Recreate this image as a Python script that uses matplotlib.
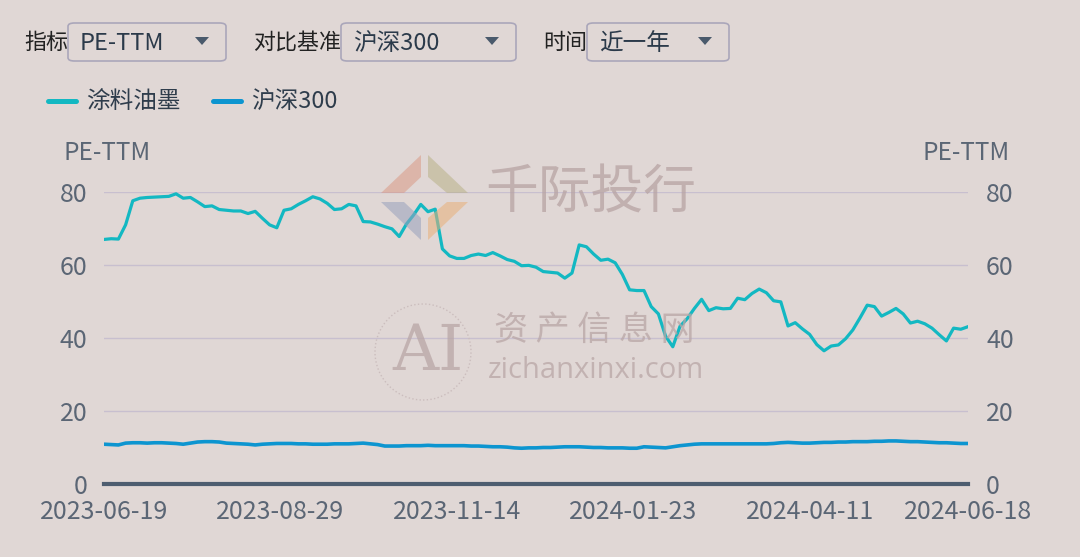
import numpy as np
import matplotlib.pyplot as plt
from matplotlib.patches import FancyBboxPatch, Polygon, Ellipse
from matplotlib.lines import Line2D

plt.rcParams['font.family'] = ['Noto Sans CJK SC', 'DejaVu Sans']

# PE-TTM, sampled every 2 trading days (2023-06-19 .. 2024-06-18)
industry_pe = [
    67.0, 67.2, 67.1, 71.0, 77.6, 78.3, 78.5, 78.6, 78.7, 78.8,
    79.5, 78.3, 78.5, 77.3, 76.0, 76.2, 75.2, 75.0, 74.8, 74.8,
    74.1, 74.7, 72.8, 71.0, 70.2, 75.0, 75.4, 76.6, 77.6, 78.7,
    78.1, 76.9, 75.2, 75.4, 76.6, 76.2, 71.9, 71.8, 71.2, 70.5,
    69.9, 67.8, 71.2, 73.7, 76.6, 74.6, 75.3, 64.4, 62.5, 61.8,
    61.8, 62.6, 63.0, 62.6, 63.4, 62.5, 61.5, 61.0, 59.8, 59.9,
    59.4, 58.2, 58.0, 57.8, 56.4, 57.8, 65.5, 65.0, 63.0, 61.3,
    61.6, 60.6, 57.4, 53.2, 53.0, 53.0, 48.6, 46.6, 40.5, 37.6,
    43.2, 45.3, 48.1, 50.6, 47.5, 48.3, 48.0, 48.1, 50.9, 50.5,
    52.2, 53.4, 52.4, 50.2, 49.9, 43.3, 44.2, 42.5, 41.0, 38.2,
    36.5, 37.8, 38.1, 39.8, 42.2, 45.5, 49.0, 48.6, 46.0, 47.0,
    48.1, 46.6, 44.1, 44.6, 43.9, 42.7, 40.9, 39.2, 42.7, 42.4,
    43.1,
]
hs300_pe = [
    10.9, 10.8, 10.7, 11.2, 11.3, 11.3, 11.2, 11.3, 11.3, 11.2,
    11.1, 10.9, 11.2, 11.5, 11.6, 11.6, 11.5, 11.2, 11.1, 11.0,
    10.9, 10.7, 10.9, 11.0, 11.1, 11.1, 11.1, 11.0, 11.0, 10.9,
    10.9, 10.9, 11.0, 11.0, 11.0, 11.1, 11.2, 11.0, 10.8, 10.4,
    10.4, 10.4, 10.5, 10.5, 10.5, 10.6, 10.5, 10.5, 10.5, 10.5,
    10.5, 10.4, 10.4, 10.3, 10.2, 10.2, 10.1, 9.9, 9.8, 9.9,
    9.9, 10.0, 10.0, 10.1, 10.2, 10.2, 10.2, 10.1, 10.0, 10.0,
    9.9, 9.9, 9.9, 9.8, 9.8, 10.2, 10.1, 10.0, 9.9, 10.2,
    10.5, 10.7, 10.9, 11.0, 11.0, 11.0, 11.0, 11.0, 11.0, 11.0,
    11.0, 11.0, 11.0, 11.1, 11.3, 11.4, 11.3, 11.2, 11.2, 11.3,
    11.4, 11.4, 11.5, 11.5, 11.6, 11.6, 11.6, 11.7, 11.7, 11.8,
    11.8, 11.7, 11.6, 11.6, 11.5, 11.4, 11.3, 11.3, 11.2, 11.1,
    11.1,
]
n_days = 241
tick_days = [0, 49, 98, 147, 196, 240]
tick_labels = ["2023-06-19", "2023-08-29", "2023-11-14", "2024-01-23", "2024-04-11", "2024-06-18"]
y_ticks = [0, 20, 40, 60, 80]

bg = "#e0d7d5"
teal = "#13b8c2"
blue = "#0d95d0"
txt = "#5b6675"
W, H = 1080, 557


def fx(px):
    return px / W


def fy(py):
    return 1 - py / H


fig = plt.figure(figsize=(10.8, 5.57), dpi=100, facecolor=bg)
ax = fig.add_axes([fx(104), fy(484), (968 - 104) / W, (484 - 192) / H])
ax.set_facecolor(bg)

days = np.arange(0, n_days, 2)
ax.plot(days, industry_pe, color=teal, lw=2.3, zorder=3, solid_joinstyle="round")
ax.plot(days, hs300_pe, color=blue, lw=2.6, zorder=3, solid_joinstyle="round")

ax.set_xlim(0, n_days - 1)
ax.set_ylim(0, 80)
ax.set_yticks(y_ticks)
ax.set_xticks(tick_days)
ax.set_xticklabels(tick_labels)
ax.grid(axis="y", color="#c8bfcf", lw=1)
ax.set_axisbelow(True)
for s in ["top", "right", "left"]:
    ax.spines[s].set_visible(False)
ax.spines["bottom"].set_color("#4e5d70")
ax.spines["bottom"].set_linewidth(3)
ax.tick_params(axis="both", length=0, colors=txt, labelsize=18)
ax.tick_params(axis="x", pad=11)
ax.tick_params(axis="y", pad=12)

ax2 = ax.twinx()
ax2.set_ylim(0, 80)
ax2.set_yticks(y_ticks)
for s in ax2.spines.values():
    s.set_visible(False)
ax2.tick_params(axis="y", length=0, colors=txt, labelsize=18, pad=13)

fig.text(fx(63), fy(153), "PE-TTM", color=txt, fontsize=17.5, va="center", ha="left")
fig.text(fx(1010), fy(153), "PE-TTM", color=txt, fontsize=17.5, va="center", ha="right")

# dropdown controls
controls = [
    ("指标", 24, 68, 226, "PE-TTM"),
    ("对比基准", 253, 341, 516, "沪深300"),
    ("时间", 543, 587, 729, "近一年"),
]
for label, lx, x0, x1, value in controls:
    fig.text(fx(lx), fy(43), label, color="#222222", fontsize=15.8, va="center")
    box = FancyBboxPatch((fx(x0), fy(61)), fx(x1 - x0), (61 - 23) / H,
                         boxstyle="round,pad=0,rounding_size=0.006",
                         transform=fig.transFigure, facecolor=bg,
                         edgecolor="#aaa6ba", lw=1.2)
    fig.add_artist(box)
    fig.text(fx(x0 + 12), fy(43), value, color="#2b3a4a", fontsize=17, va="center")
    ax_c = x1 - 24
    tri = Polygon([[fx(ax_c - 7), fy(37)], [fx(ax_c + 7), fy(37)], [fx(ax_c), fy(45)]],
                  closed=True, transform=fig.transFigure, facecolor="#4a5a6c",
                  edgecolor="none")
    fig.add_artist(tri)

# legend
for x0, color, name in [(48, teal, "涂料油墨"), (213, blue, "沪深300")]:
    fig.add_artist(Line2D([fx(x0), fx(x0 + 28)], [fy(101), fy(101)], color=color,
                          lw=3.6, solid_capstyle="round", transform=fig.transFigure))
    fig.text(fx(x0 + 38), fy(101), name, color="#2f3d4c", fontsize=17, va="center")

# watermark logo
pieces = [
    ([(381, 193), (421, 155), (421, 177), (404, 193)], "#d99a86"),
    ([(428, 155), (468, 193), (447, 193), (428, 177)], "#b8b188"),
    ([(381, 202), (404, 202), (421, 218), (421, 240)], "#98a1bd"),
    ([(468, 202), (447, 202), (428, 218), (428, 240)], "#e8b078"),
]
for pts, c in pieces:
    fig.add_artist(Polygon([[fx(a), fy(b)] for a, b in pts], closed=True,
                           transform=fig.transFigure, facecolor=c, alpha=0.55,
                           edgecolor="none", zorder=5))
fig.text(fx(591), fy(193), "千际投行", color="#b7a3a3", alpha=0.75, fontsize=38,
         ha="center", va="center", fontweight="medium", zorder=6)

fig.add_artist(Ellipse((fx(423), fy(352)), 96 / W, 96 / H, transform=fig.transFigure,
                       facecolor="none", edgecolor="#cbbdbd", lw=1, ls=":", zorder=5))
fig.text(fx(428), fy(352), "AI", family="DejaVu Serif", color="#b9a6a6", alpha=0.75,
         fontsize=46, ha="center", va="center", zorder=6)
fig.text(fx(594), fy(330), "资 产 信 息 网", color="#b9a6a6", alpha=0.75, fontsize=24.5,
         ha="center", va="center", zorder=6)
fig.text(fx(596), fy(371), "zichanxinxi.com", family="Open Sans", color="#b9a6a6",
         alpha=0.75, fontsize=21, ha="center", va="center", zorder=6)

fig.savefig("out.png", dpi=100, facecolor=bg)
